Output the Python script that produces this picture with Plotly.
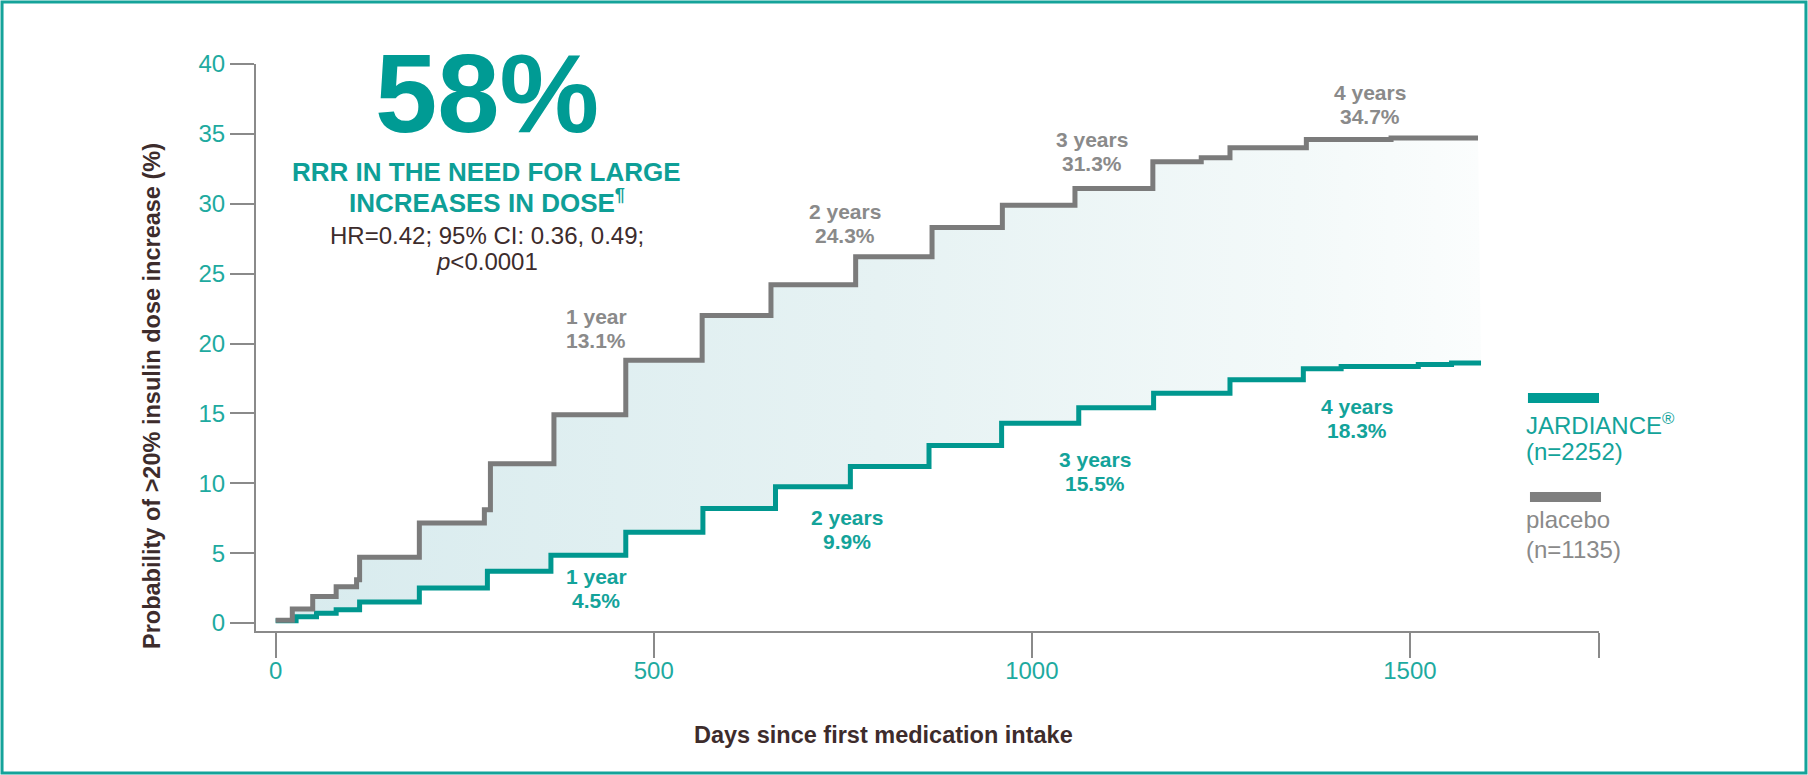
import plotly.graph_objects as go

# ---------------- data ----------------
days_placebo = [0, 22, 49, 80, 107, 111, 190, 276, 284, 368, 463, 564, 655, 767,
                868, 961, 1057, 1160, 1224, 1262, 1363, 1475, 1590]
pct_placebo = [0.2, 1.0, 1.9, 2.6, 3.1, 4.7, 7.15, 8.1, 11.4, 14.9, 18.8, 22.0, 24.2, 26.2,
               28.3, 29.9, 31.1, 33.0, 33.3, 34.0, 34.6, 34.7, 34.7]

days_jard = [0, 27, 54, 80, 111, 190, 280, 364, 463, 565, 661, 760, 864, 960,
             1062, 1161, 1262, 1359, 1409, 1511, 1555, 1594]
pct_jard = [0.17, 0.45, 0.7, 0.95, 1.5, 2.5, 3.7, 4.85, 6.5, 8.2, 9.75, 11.2, 12.7, 14.3,
            15.4, 16.45, 17.4, 18.2, 18.35, 18.5, 18.6, 18.6]

x_tick_vals = [0, 500, 1000, 1500]
x_tick_text = ["0", "500", "1000", "1500"]
x_axis_end = [1750]
y_tick_vals = [0, 5, 10, 15, 20, 25, 30, 35, 40]

placebo_years = ["1 year", "2 years", "3 years", "4 years"]
placebo_pcts = ["13.1%", "24.3%", "31.3%", "34.7%"]
jard_years = ["1 year", "2 years", "3 years", "4 years"]
jard_pcts = ["4.5%", "9.9%", "15.5%", "18.3%"]

legend_names = ["JARDIANCE<sup>®</sup>", "placebo"]
legend_ns = ["(n=2252)", "(n=1135)"]

headline = "58%"
sub1 = "RRR IN THE NEED FOR LARGE"
sub2 = "INCREASES IN DOSE<sup>¶</sup>"
stat1 = "HR=0.42; 95% CI: 0.36, 0.49;"
stat2 = "<i>p</i>&lt;0.0001"
x_title = "Days since first medication intake"
y_title = "Probability of &gt;20% insulin dose increase (%)"

# ---------------- styles / positions ----------------
TEAL = "#00978f"
TEAL_TXT = "#13a39a"
TICK_TEAL = "#1eaaa0"
GRAY_LINE = "#7b7b7b"
GRAY_TXT = "#8a8a8a"
DARK = "#3d2c2c"
AXIS_GRAY = "#8a8a8a"
FONT = "Liberation Sans, Arial, sans-serif"

placebo_label_pos = [(424, 21.1), (753, 28.6), (1079, 33.75), (1447, 37.1)]
jard_label_pos = [(424, 2.47), (755, 6.72), (1084, 10.87), (1430, 14.66)]

fig = go.Figure()

fig.add_trace(go.Scatter(
    x=days_jard, y=pct_jard, mode="lines", line_shape="hv",
    line=dict(color=TEAL, width=5), showlegend=False, hoverinfo="skip"))

fig.add_trace(go.Scatter(
    x=days_placebo, y=pct_placebo, mode="lines", line_shape="hv",
    line=dict(color=GRAY_LINE, width=5), fill="tonexty",
    fillgradient=dict(type="horizontal",
                      colorscale=[[0, "#d8ebee"], [0.5, "#e6f2f3"], [0.85, "#f3f9f9"], [1, "#fbfdfd"]]),
    showlegend=False, hoverinfo="skip"))

annotations = []

def two_line(x, y, l1, l2, color, size=21, gap=12):
    for txt, sh in ((l1, gap), (l2, -gap)):
        annotations.append(dict(x=x, y=y, xref="x", yref="y", text="<b>%s</b>" % txt, showarrow=False,
                                xanchor="center", yanchor="middle", yshift=sh,
                                font=dict(family=FONT, size=size, color=color)))

for (px, py), a, b in zip(placebo_label_pos, placebo_years, placebo_pcts):
    two_line(px, py, a, b, GRAY_TXT)
for (px, py), a, b in zip(jard_label_pos, jard_years, jard_pcts):
    two_line(px, py, a, b, TEAL_TXT)

# headline block
hx = 0.172
block = [
    ("<b>%s</b>" % headline, 0.948, 112, "#009b94"),
    ("<b>%s</b>" % sub1, 0.8095, 26, "#0e9f97"),
    ("<b>%s</b>" % sub2, 0.7575, 26, "#0e9f97"),
    (stat1, 0.698, 24, DARK),
    (stat2, 0.651, 24, DARK),
]
for txt, yy, sz, col in block:
    annotations.append(dict(x=hx, y=yy, xref="paper", yref="paper", text=txt, showarrow=False,
                            xanchor="center", yanchor="middle",
                            font=dict(family=FONT, size=sz, color=col)))

# axis titles
annotations += [
    dict(x=0.467, y=-0.1834, xref="paper", yref="paper", text="<b>%s</b>" % x_title, showarrow=False,
         xanchor="center", yanchor="middle", font=dict(family=FONT, size=23.5, color=DARK)),
    dict(x=-0.0774, y=0.4145, xref="paper", yref="paper", text="<b>%s</b>" % y_title, showarrow=False,
         textangle=-90, xanchor="center", yanchor="middle",
         font=dict(family=FONT, size=23.5, color=DARK)),
]

# legend
leg_x = 0.9442
leg_rows = [(0.3651, 0.3157, TEAL_TXT), (0.1958, 0.1429, GRAY_TXT)]
for name, n, (y1, y2, col) in zip(legend_names, legend_ns, leg_rows):
    annotations.append(dict(x=leg_x, y=y1, xref="paper", yref="paper", text=name, showarrow=False,
                            xanchor="left", yanchor="middle", font=dict(family=FONT, size=24, color=col)))
    annotations.append(dict(x=leg_x, y=y2, xref="paper", yref="paper", text=n, showarrow=False,
                            xanchor="left", yanchor="middle", font=dict(family=FONT, size=24, color=col)))

shapes = [
    dict(type="line", xref="paper", yref="paper", x0=0.9471, x1=1.0, y0=0.4109, y1=0.4109,
         line=dict(color="#009b94", width=10)),
    dict(type="line", xref="paper", yref="paper", x0=0.9486, x1=1.0015, y0=0.2363, y1=0.2363,
         line=dict(color="#7f7f7f", width=10)),
    dict(type="rect", xref="paper", yref="paper", x0=-0.1891, x1=1.1541, y0=-0.2504, y1=1.1093,
         line=dict(color="#15a39a", width=3), fillcolor="rgba(0,0,0,0)"),
]

fig.update_layout(
    width=1808, height=775,
    margin=dict(l=256, r=209, t=64, b=144, pad=0),
    paper_bgcolor="white", plot_bgcolor="white",
    annotations=annotations, shapes=shapes,
    font=dict(family=FONT),
    xaxis=dict(range=[-26, 1750], tickvals=x_tick_vals, ticktext=x_tick_text,
               showgrid=False, zeroline=False, showline=True, linecolor=AXIS_GRAY, linewidth=2,
               ticks="outside", ticklen=25, tickwidth=2, tickcolor=AXIS_GRAY,
               ticklabelstandoff=-8,
               minor=dict(tickmode="array", tickvals=x_axis_end, ticks="outside", ticklen=25,
                          tickwidth=2, tickcolor=AXIS_GRAY, showgrid=False),
               tickfont=dict(family=FONT, size=24, color=TICK_TEAL)),
    yaxis=dict(range=[-0.57, 40], tickvals=y_tick_vals,
               showgrid=False, zeroline=False, showline=True, linecolor=AXIS_GRAY, linewidth=2,
               ticks="outside", ticklen=24, tickwidth=2, tickcolor=AXIS_GRAY,
               tickfont=dict(family=FONT, size=24, color=TICK_TEAL)),
)

fig.write_html("out.html", config={"displayModeBar": False},
               post_script="document.body.style.margin='0';")
